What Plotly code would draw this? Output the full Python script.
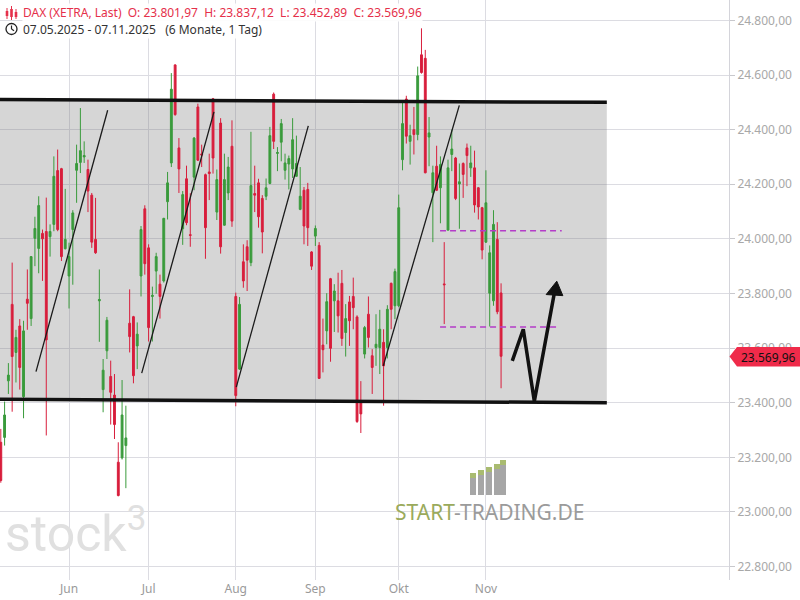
import numpy as np
import pandas as pd
import plotly.graph_objects as go

# ---------------- data (DAX XETRA, daily, 07.05.2025 - 07.11.2025) ----------------
dates = pd.bdate_range("2025-05-07", "2025-11-07")

open_ = [23255, 23273, 23480, 23760, 23584, 23681, 23422, 23779, 23708, 24002,
         23965, 24020, 24027, 24008, 24053, 24250, 24257, 23964, 23864, 24034,
         24251, 24280, 24300, 24254, 24160, 23998, 23773, 23448, 23590, 23496,
         23428, 23182, 23198, 23243, 23691, 23715, 23608, 23864, 24110, 23967,
         23789, 23882, 23834, 23846, 24136, 24278, 24637, 24333, 24037, 24220,
         24015, 24226, 24483, 24311, 24235, 24245, 24513, 24098, 24424, 24050,
         24168, 24339, 23789, 23523, 23916, 23971, 23913, 24166, 24205, 24148,
         24156, 24203, 24530, 24313, 24354, 24251, 24274, 24256, 24229, 24108,
         24178, 24181, 23952, 24010, 23976, 23611, 23663, 23854, 23773, 23773,
         23837, 23657, 23769, 23789, 23714, 23403, 23578, 23724, 23572, 23602,
         23602, 23621, 23602, 23837, 23755, 23755, 24290, 24512, 24357, 24400,
         24382, 24674, 24661, 24373, 24169, 24266, 24187, 23835, 24032, 24309,
         24296, 24201, 24276, 24333, 24260, 24260, 24187, 24114, 23988, 23801,
         23773, 23998, 23801.97]
high = [23304, 23404, 23545, 23913, 23667, 23706, 23700, 23888, 23937, 24081,
        24156, 24034, 24151, 24053, 24302, 24327, 24260, 24183, 23986, 24105,
        24345, 24479, 24357, 24290, 24168, 24150, 23888, 23560, 23714, 23554,
        23505, 23255, 23483, 23389, 23815, 23718, 23694, 24047, 24123, 23980,
        23825, 23949, 23869, 24077, 24245, 24607, 24639, 24369, 24175, 24268,
        24167, 24373, 24495, 24345, 24239, 24312, 24516, 24254, 24442, 24312,
        24300, 24434, 23803, 23787, 23980, 23995, 24392, 24268, 24220, 24160,
        24221, 24410, 24536, 24336, 24439, 24312, 24305, 24442, 24378, 24263,
        24190, 24205, 23955, 24049, 23988, 23708, 23801, 23857, 23834, 23876,
        23886, 23761, 23791, 23858, 23720, 23479, 23681, 23789, 23596, 23724,
        23740, 23669, 23757, 23840, 23891, 24162, 24503, 24524, 24418, 24483,
        24631, 24771, 24692, 24446, 24268, 24341, 24302, 23988, 24290, 24400,
        24300, 24276, 24280, 24349, 24341, 24323, 24190, 24117, 24251, 23976,
        24105, 24061, 23837.12]
low = [23107, 23243, 23432, 23367, 23474, 23448, 23343, 23667, 23681, 23900,
       23874, 23846, 23280, 23935, 24028, 24028, 23919, 23961, 23745, 23832,
       24132, 24241, 24278, 24098, 23967, 23945, 23623, 23365, 23560, 23320,
       23267, 23057, 23192, 23087, 23584, 23471, 23523, 23789, 23869, 23624,
       23624, 23799, 23708, 23840, 24071, 24263, 24451, 24168, 23978, 24050,
       23971, 24178, 24285, 24263, 23927, 24142, 24239, 24069, 23946, 24048,
       24142, 24044, 23387, 23520, 23821, 23809, 23900, 24098, 24041, 23947,
       24142, 24200, 24329, 24248, 24284, 24217, 24181, 24223, 24227, 24105,
       23980, 23974, 23886, 23974, 23487, 23511, 23614, 23550, 23659, 23657,
       23608, 23569, 23608, 23669, 23326, 23289, 23562, 23602, 23432, 23535,
       23505, 23389, 23562, 23669, 23706, 23750, 24251, 24349, 24272, 24309,
       24361, 24605, 24240, 24266, 23988, 24175, 24057, 23688, 24030, 24248,
       24142, 24037, 24150, 24193, 24227, 24096, 24071, 23925, 23985, 23679,
       23755, 23724, 23452.89]
close = [23115, 23355, 23501, 23569, 23639, 23529, 23663, 23764, 23935, 24038,
         24122, 24000, 23630, 24027, 24229, 24034, 23935, 23998, 23935, 24095,
         24276, 24323, 24305, 24175, 23988, 23949, 23778, 23519, 23702, 23438,
         23320, 23060, 23355, 23271, 23642, 23499, 23651, 24034, 23909, 23675,
         23793, 23935, 23789, 24075, 24205, 24548, 24455, 24256, 24162, 24059,
         24013, 24369, 24288, 24307, 24041, 24239, 24296, 24217, 23971, 24217,
         24263, 24065, 23426, 23760, 23846, 23922, 24195, 24160, 24081, 24025,
         24187, 24378, 24357, 24316, 24422, 24278, 24294, 24363, 24276, 24156,
         24047, 24041, 23900, 24038, 23489, 23594, 23770, 23599, 23809, 23718,
         23635, 23708, 23700, 23748, 23331, 23359, 23675, 23639, 23529, 23614,
         23669, 23535, 23742, 23742, 23880, 24114, 24422, 24376, 24378, 24382,
         24597, 24609, 24242, 24388, 24242, 24178, 24272, 23832, 24260, 24329,
         24148, 24209, 24236, 24305, 24278, 24124, 24117, 23959, 24132, 23949,
         24053, 23733, 23569.96]

month_labels = ["Jun", "Jul", "Aug", "Sep", "Okt", "Nov"]

channel_top = [24510, 24500]
channel_bottom = [23413, 23400]
gap_upper = 24030
gap_lower = 23677

title_line1 = "DAX (XETRA, Last)  O: 23.801,97  H: 23.837,12  L: 23.452,89  C: 23.569,96"
title_line2 = "07.05.2025 - 07.11.2025   (6 Monate, 1 Tag)"
last_label = "23.569,96"

# ---------------- figure ----------------
x = np.arange(len(dates))
month = dates.month
tickvals = [int(i) for i in range(1, len(dates)) if month[i] != month[i - 1]]

W, H = 800, 600
ML, MR, MT, MB = 0, 71, 0, 20
PW, PH = W - ML - MR, H - MT - MB


def px(v):
    return (v - ML) / PW


def py(v):
    return 1 - (v - MT) / PH


GREEN = "#3a9b3c"
RED = "#d81e3c"

fig = go.Figure()
fig.add_trace(go.Candlestick(
    x=x, open=open_, high=high, low=low, close=close,
    increasing=dict(line=dict(color=GREEN, width=1), fillcolor=GREEN),
    decreasing=dict(line=dict(color=RED, width=1), fillcolor=RED),
    whiskerwidth=0, showlegend=False, hoverinfo="skip",
))

shapes = []
xl, xr = -0.3, 159.9
# gray channel
shapes.append(dict(type="path", xref="x", yref="y", layer="between",
                   path=f"M {xl},{channel_top[0]} L {xr},{channel_top[1]} L {xr},{channel_bottom[1]} L {xl},{channel_bottom[0]} Z",
                   fillcolor="rgba(120,120,120,0.30)", line=dict(width=0)))
for ys in (channel_top, channel_bottom):
    shapes.append(dict(type="line", xref="x", yref="y", x0=xl, x1=xr, y0=ys[0], y1=ys[1],
                       line=dict(color="#111111", width=3.5), layer="above"))
# thin trend lines
for (a, b) in [((9.29, 23514), (28.2, 24471)),
               ((37.18, 23508), (56.25, 24465)),
               ((62.14, 23457), (81.13, 24414)),
               ((100.92, 23535), (120.98, 24489))]:
    shapes.append(dict(type="line", xref="x", yref="y", x0=a[0], y0=a[1], x1=b[0], y1=b[1],
                       line=dict(color="#1a1a1a", width=1.3), layer="above"))
# magenta dashed gap lines
shapes.append(dict(type="line", xref="x", yref="y", x0=115.9, x1=148.0, y0=gap_upper, y1=gap_upper,
                   line=dict(color="#b43cc8", width=1.5, dash="6px,4px"), layer="above"))
shapes.append(dict(type="line", xref="x", yref="y", x0=115.9, x1=146.7, y0=gap_lower, y1=gap_lower,
                   line=dict(color="#b43cc8", width=1.5, dash="6px,4px"), layer="above"))
# projection arrow
shapes.append(dict(type="path", xref="x", yref="y", layer="above",
                   path="M 134.96,23553 L 137.86,23669 L 140.77,23405 L 146.1,23805",
                   line=dict(color="#111111", width=3.5)))
shapes.append(dict(type="path", xref="x", yref="y", layer="above",
                   path="M 146.7,23845 L 143.9,23796 L 148.3,23792 Z",
                   fillcolor="#111111", line=dict(color="#111111", width=1)))
# last price tag
shapes.append(dict(type="path", xref="paper", yref="paper", layer="above",
                   path=f"M {px(729.5)},{py(356.5)} L {px(737)},{py(347)} L {px(800)},{py(347)} "
                        f"L {px(800)},{py(366.5)} L {px(737)},{py(366.5)} Z",
                   fillcolor="#ef2b4a", line=dict(width=0)))
# header icons: candles
for cx, t, b, bt, bb in [(7, 8, 19, 11, 16), (11.5, 6, 20, 9, 17), (16, 9, 19, 12, 17)]:
    shapes.append(dict(type="line", xref="paper", yref="paper", x0=px(cx), x1=px(cx), y0=py(t), y1=py(b),
                       line=dict(color="#e5304a", width=1)))
    shapes.append(dict(type="rect", xref="paper", yref="paper", x0=px(cx - 1.3), x1=px(cx + 1.3), y0=py(bt), y1=py(bb),
                       fillcolor="#e5304a", line=dict(width=0)))
# clock icon
shapes.append(dict(type="circle", xref="paper", yref="paper", x0=px(6), x1=px(17), y0=py(23.5), y1=py(34.5),
                   line=dict(color="#222222", width=1.3)))
shapes.append(dict(type="line", xref="paper", yref="paper", x0=px(11.5), x1=px(11.5), y0=py(29), y1=py(25.5),
                   line=dict(color="#222222", width=1.2)))
shapes.append(dict(type="line", xref="paper", yref="paper", x0=px(11.5), x1=px(14), y0=py(29), y1=py(30.8),
                   line=dict(color="#222222", width=1.2)))
# start-trading logo bars
for x0_, x1_, top in [(470, 476, 473), (478, 484, 470), (486, 492, 467), (494, 500, 464), (500, 506, 460)]:
    shapes.append(dict(type="rect", xref="paper", yref="paper", x0=px(x0_), x1=px(x1_), y0=py(495), y1=py(top + 5),
                       fillcolor="#a6a6a6", line=dict(width=0), layer="below"))
    shapes.append(dict(type="rect", xref="paper", yref="paper", x0=px(x0_), x1=px(x1_), y0=py(top + 5), y1=py(top),
                       fillcolor="#a9bb70", line=dict(width=0), layer="below"))

annotations = [
    dict(xref="paper", yref="paper", x=px(22), y=py(13), xanchor="left", yanchor="middle",
         text=title_line1, showarrow=False, font=dict(family="Noto Sans", size=12, color="#e5304a"),
         bgcolor="rgba(255,255,255,0.9)", borderpad=0),
    dict(xref="paper", yref="paper", x=px(22), y=py(29), xanchor="left", yanchor="middle",
         text=title_line2, showarrow=False, font=dict(family="Noto Sans", size=12, color="#333333"),
         bgcolor="rgba(255,255,255,0.9)", borderpad=0),
    dict(xref="paper", yref="paper", x=px(739), y=py(357), xanchor="left", yanchor="middle",
         text=last_label, showarrow=False, font=dict(family="Noto Sans", size=12, color="#111111")),
    dict(xref="paper", yref="paper", x=px(3), y=py(530), xanchor="left", yanchor="middle",
         text="stock<sup>3</sup>", showarrow=False, font=dict(family="Roboto", size=50, color="#e0e0e0")),
    dict(xref="paper", yref="paper", x=px(489), y=py(512), xanchor="center", yanchor="middle",
         text="<span style='color:#9aaa5c'>START</span>-TRADING.DE", showarrow=False,
         font=dict(family="Noto Sans", size=21, color="#9b9b9b")),
]

fig.update_layout(
    width=W, height=H, margin=dict(l=ML, r=MR, t=MT, b=MB, autoexpand=False),
    paper_bgcolor="white", plot_bgcolor="white",
    separators=",.",
    showlegend=False,
    shapes=shapes, annotations=annotations,
    xaxis=dict(type="linear", range=[-0.21, 192.14], tickvals=tickvals, ticktext=month_labels,
               showgrid=True, gridcolor="#dcdce2", gridwidth=1, zeroline=False,
               showline=False, ticks="", tickfont=dict(family="Noto Sans", size=12, color="#9a9a9a"),
               rangeslider=dict(visible=False), fixedrange=True),
    yaxis=dict(side="right", range=[22750.7, 24874.7], dtick=200, tick0=0, tickformat=",.2f",
               showgrid=True, gridcolor="#dcdce2", gridwidth=1, zeroline=False,
               showline=True, linecolor="#d4d4da", linewidth=1,
               ticks="outside", ticklen=5, tickcolor="#c8c8cc",
               tickfont=dict(family="Noto Sans", size=12, color="#a8a8a8"), fixedrange=True),
)

fig.write_html("out.html", config={"displayModeBar": False},
               post_script="document.body.style.margin='0';document.body.style.overflow='hidden';")
